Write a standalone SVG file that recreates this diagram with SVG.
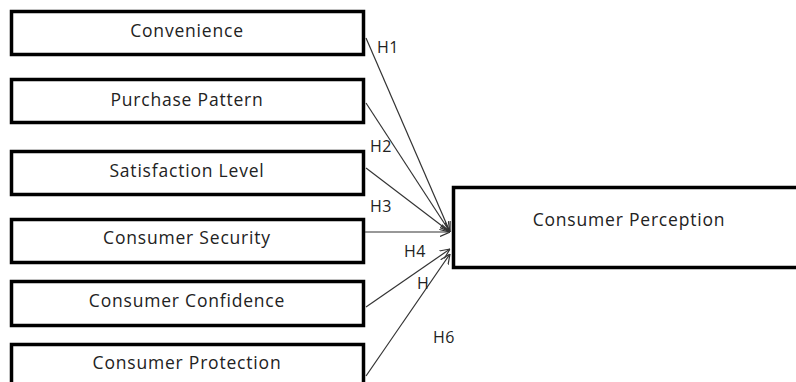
<svg xmlns="http://www.w3.org/2000/svg" width="796" height="382" viewBox="0 0 796 382">
<defs>
<style>
.box{fill:#fff;stroke:#000;stroke-width:3.5}
.t{font-family:"Open Sans","Noto Sans",sans-serif;font-size:17.5px;letter-spacing:0.8px;fill:#222;text-anchor:middle}
.h{font-family:"Open Sans","Noto Sans",sans-serif;font-size:16px;letter-spacing:0.5px;fill:#222}
.c{stroke:#333;stroke-width:1.2;fill:none;marker-end:url(#arr)}
</style>
<marker id="arr" viewBox="0 0 10 10" refX="10" refY="5" markerWidth="10" markerHeight="10" markerUnits="userSpaceOnUse" orient="auto">
<path d="M0,0.5 L10,5 L0,9.5" fill="none" stroke="#333" stroke-width="1.2"/>
</marker>
</defs>
<rect width="796" height="382" fill="#fff"/>
<g id="convenience"><rect class="box" x="11.5" y="11.5" width="352" height="43"/><text class="t" x="187" y="37">Convenience</text></g>
<g id="purchase-pattern"><rect class="box" x="11.5" y="79.5" width="352" height="43"/><text class="t" x="187" y="106">Purchase Pattern</text></g>
<g id="satisfaction-level"><rect class="box" x="11.5" y="151.5" width="352" height="43"/><text class="t" x="187" y="177">Satisfaction Level</text></g>
<g id="consumer-security"><rect class="box" x="11.5" y="219.5" width="352" height="43"/><text class="t" x="187" y="244">Consumer Security</text></g>
<g id="consumer-confidence"><rect class="box" x="11.5" y="281.5" width="352" height="44"/><text class="t" x="187" y="307">Consumer Confidence</text></g>
<g id="consumer-protection"><rect class="box" x="11.5" y="344.5" width="352" height="50"/><text class="t" x="187" y="369">Consumer Protection</text></g>
<g id="consumer-perception"><rect class="box" x="453.5" y="187.5" width="360" height="80"/><text class="t" x="629" y="226">Consumer Perception</text></g>
<g id="connectors">
<line class="c" x1="366" y1="38" x2="450" y2="232"/>
<line class="c" x1="366" y1="103" x2="450" y2="232"/>
<line class="c" x1="366" y1="168" x2="450" y2="232"/>
<line class="c" x1="365" y1="232" x2="450" y2="232"/>
<line class="c" x1="366" y1="307" x2="450" y2="249"/>
<line class="c" x1="366" y1="376" x2="450" y2="254"/>
</g>
<g id="labels">
<text class="h" x="377" y="53">H1</text>
<text class="h" x="370" y="152">H2</text>
<text class="h" x="370" y="212">H3</text>
<text class="h" x="404" y="257">H4</text>
<text class="h" x="417" y="289">H</text>
<text class="h" x="433" y="343">H6</text>
</g>
</svg>
